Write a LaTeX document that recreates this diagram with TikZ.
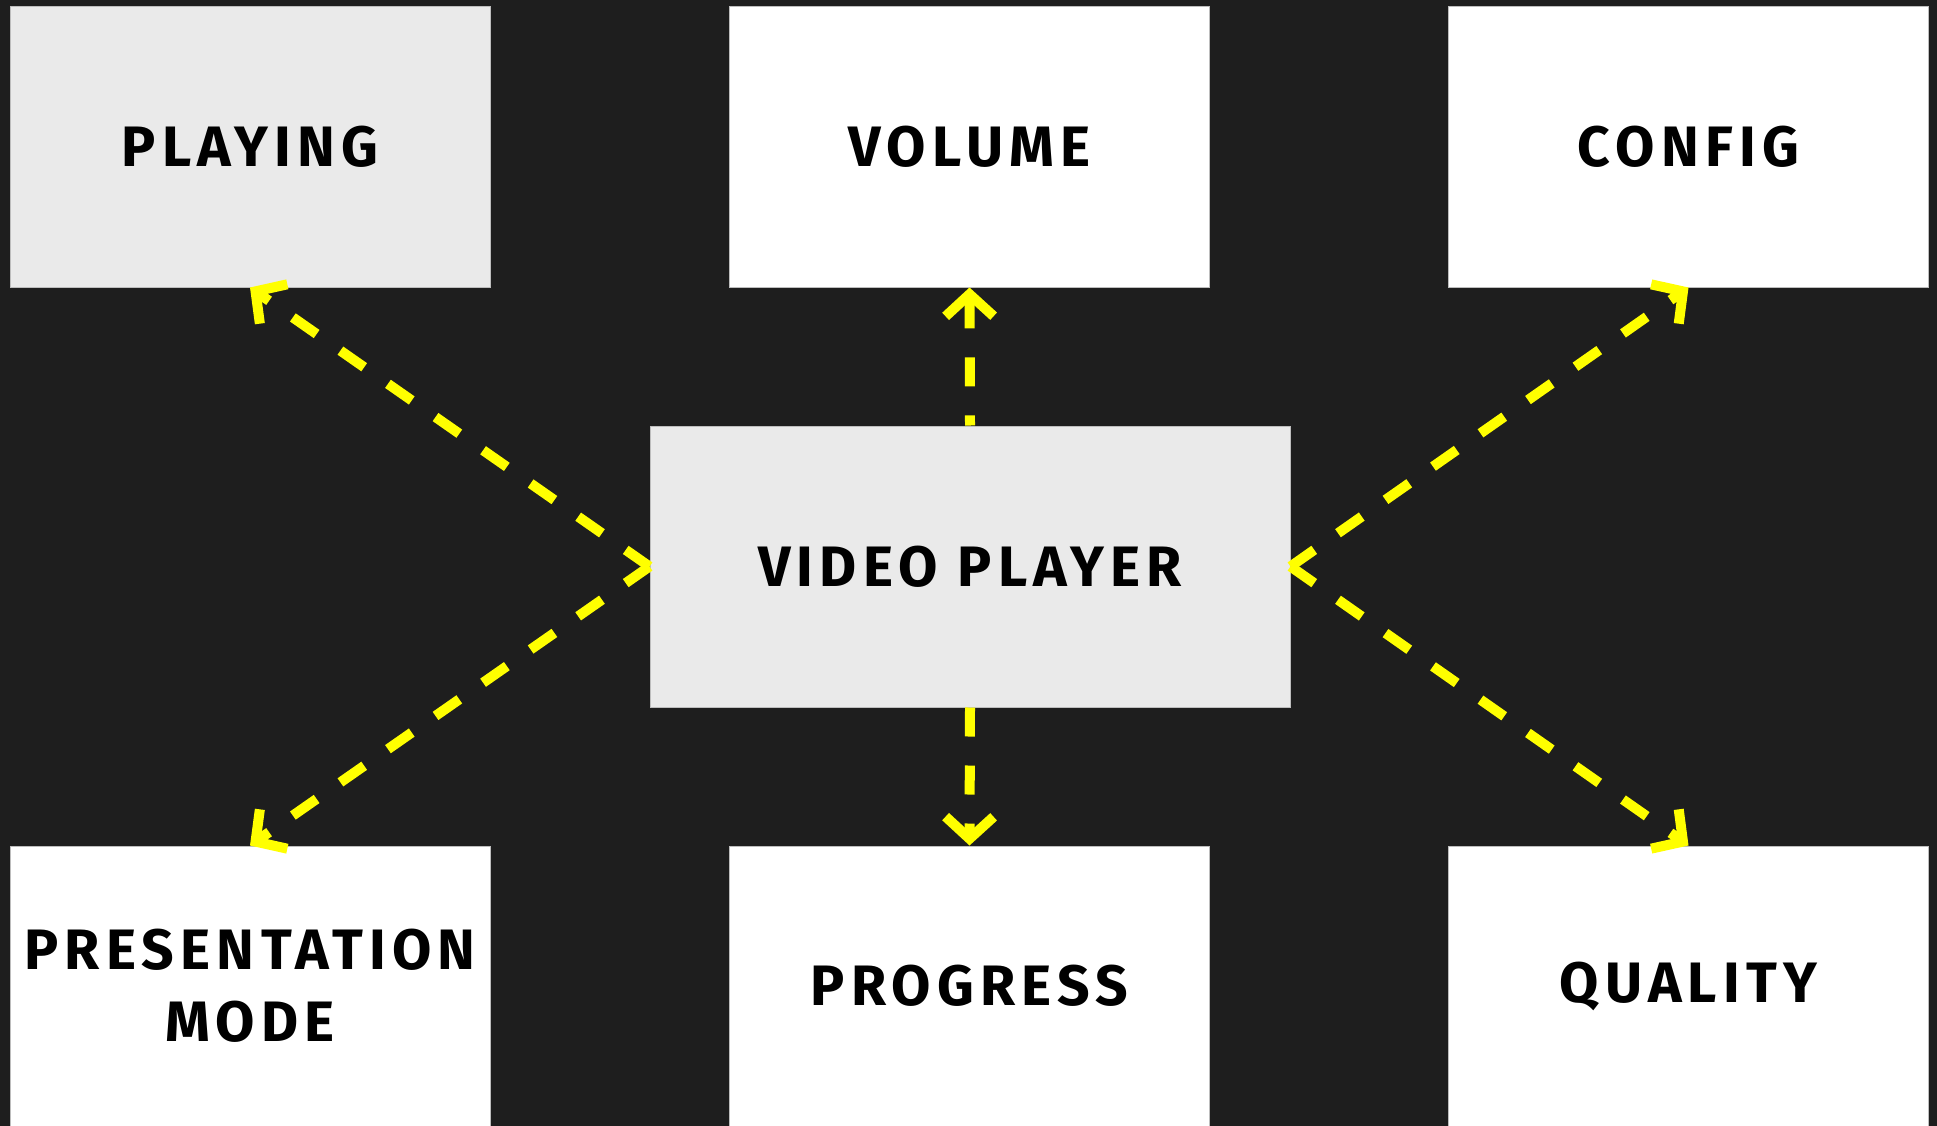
\documentclass[tikz,border=0pt]{standalone}
\usepackage{fontspec}
\setmainfont{Fira Sans}[LetterSpace=11]
\usetikzlibrary{arrows.meta}
\definecolor{bg}{HTML}{1E1E1E}
\definecolor{boxgray}{HTML}{EAEAEA}
\definecolor{boxline}{HTML}{BDBDBD}
\definecolor{yel}{HTML}{FFFF00}
\begin{document}
\begin{tikzpicture}[x=1pt,y=-1pt,
  box/.style={draw=boxline, line width=1pt, fill=white, minimum width=480pt,
    minimum height=280pt, inner sep=0pt, align=center, text=black,
    font=\fontsize{57}{72}\selectfont\bfseries},
  gbox/.style={box, fill=boxgray},
  conn/.style={draw=yel, line width=10pt, dash pattern=on 29pt off 29pt},
  tip/.style={-{Straight Barb[length=22pt,width=48pt]}},
  rtip/.style={{Straight Barb[length=22pt,width=48pt]}-}]
\fill[bg] (0,0) rectangle (1937,1126);
\useasboundingbox (0,0) rectangle (1937,1126);
\node[gbox] (playing) at (250,147) {PLAYING};
\node[box] (volume) at (969.5,147) {VOLUME};
\node[box] (config) at (1688.5,147) {CONFIG};
\node[gbox, minimum width=640pt, minimum height=281pt] (vp) at (970,566.5) {VIDEO PLAYER};
\node[box] (pres) at (250,986) {PRESENTATION\\MODE};
\node[box] (progress) at (969.5,986) {PROGRESS};
\node[box] (quality) at (1688.5,986) {QUALITY};
\draw[conn, tip] (vp.west) -- (playing.south);
\draw[conn, tip] (vp.west) -- (pres.north);
\draw[conn, tip] (vp.east) -- (config.south);
\draw[conn, tip] (vp.east) -- (quality.north);
\draw[conn, rtip] (volume.south) -- (vp.north);
\draw[conn, tip] (vp.south) -- (progress.north);
\end{tikzpicture}
\end{document}
